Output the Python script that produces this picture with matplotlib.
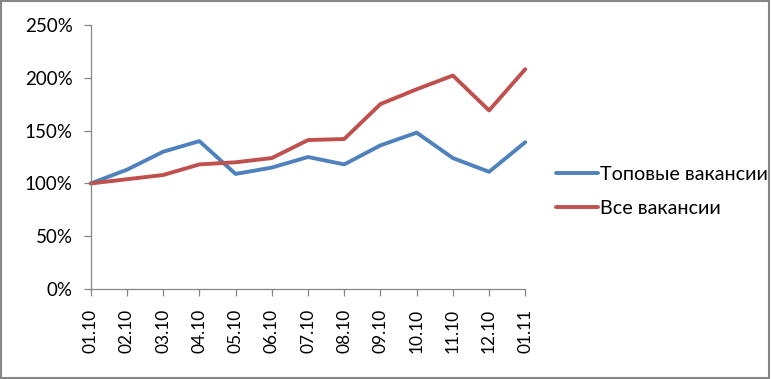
import matplotlib.pyplot as plt
from matplotlib.patches import Rectangle
from matplotlib.ticker import FuncFormatter

plt.rcParams['font.family'] = ['Lato', 'Noto Sans', 'DejaVu Sans']

dates = ["01.10", "02.10", "03.10", "04.10", "05.10", "06.10", "07.10",
         "08.10", "09.10", "10.10", "11.10", "12.10", "01.11"]
top_vac = [100, 113, 130, 140, 109, 115, 125, 118, 136, 148, 124, 111, 139]
all_vac = [100, 104, 108, 118, 120, 124, 141, 142, 175, 189, 202, 169, 208]

fig = plt.figure(figsize=(7.71, 3.79), dpi=100)
ax = fig.add_axes([0.1177, 0.2367, 0.5636, 0.6981])

x = range(len(dates))
ax.plot(x, top_vac, color="#4F81BD", lw=2.8, label="Топовые вакансии",
        solid_capstyle="round", solid_joinstyle="round", clip_on=False)
ax.plot(x, all_vac, color="#C0504D", lw=2.8, label="Все вакансии",
        solid_capstyle="round", solid_joinstyle="round", clip_on=False)

ax.set_xlim(0, len(dates) - 1)
ax.set_ylim(0, 250)
ax.set_yticks(range(0, 251, 50))
ax.yaxis.set_major_formatter(FuncFormatter(lambda v, p: "%d%%" % v))
ax.set_xticks(list(x))
ax.set_xticklabels(dates, rotation=90)

for s in ["top", "right"]:
    ax.spines[s].set_visible(False)
for s in ["left", "bottom"]:
    ax.spines[s].set_color("#868686")
    ax.spines[s].set_linewidth(0.9)
ax.tick_params(axis="both", color="#868686", length=5, width=0.9)
ax.tick_params(axis="y", pad=8, labelsize=13.5)
ax.tick_params(axis="x", pad=9, labelsize=12.5)

ax.legend(loc="center left", bbox_to_anchor=(0.721, 0.494),
          bbox_transform=fig.transFigure, frameon=False, fontsize=14.2,
          handlelength=2.15, handletextpad=0.1, labelspacing=0.85,
          borderpad=0, borderaxespad=0)

fig.patches.append(Rectangle((0.001, 0.003), 0.997, 0.994,
                             transform=fig.transFigure, fill=False,
                             edgecolor="#868686", lw=1.5))

fig.savefig("out.png", dpi=100)
